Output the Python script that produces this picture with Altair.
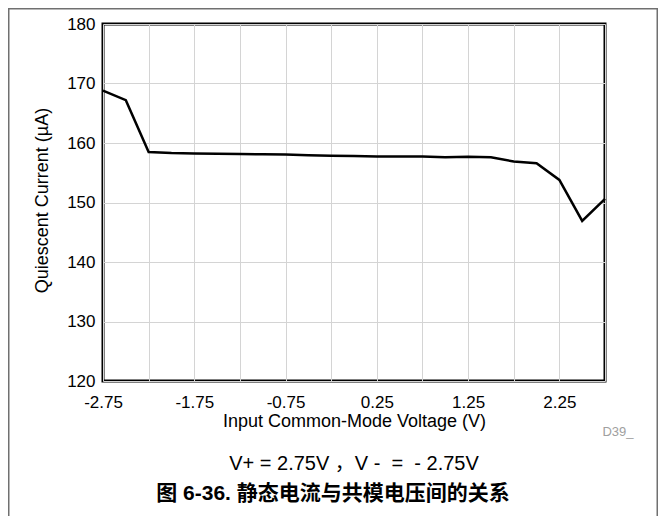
import altair as alt
import pandas as pd

# ---- data ----
vcm = [-2.75, -2.5, -2.25, -2.0, -1.75, -1.5, -1.25, -1.0, -0.75, -0.5, -0.25, 0.0,
       0.25, 0.5, 0.75, 1.0, 1.25, 1.5, 1.75, 2.0, 2.25, 2.5, 2.75]
iq = [168.8, 167.2, 158.5, 158.3, 158.25, 158.2, 158.15, 158.1, 158.05, 157.95, 157.85, 157.8,
      157.75, 157.75, 157.75, 157.6, 157.7, 157.6, 156.9, 156.6, 153.8, 146.9, 150.6]

x_grid_values = [-2.75, -2.25, -1.75, -1.25, -0.75, -0.25, 0.25, 0.75, 1.25, 1.75, 2.25, 2.75]
x_grid_labels = ["-2.75", "", "-1.75", "", "-0.75", "", "0.25", "", "1.25", "", "2.25", ""]
y_ticks = [120, 130, 140, 150, 160, 170, 180]

NB = "\u00a0"
x_title = "Input Common-Mode Voltage (V)"
y_title = "Quiescent Current (µA)"
caption = f"V+ = 2.75V{NB}，V{NB}-{NB}{NB}={NB}{NB}-{NB}2.75V"
fig_title = "图 6-36. 静态电流与共模电压间的关系"
code_label = "D39_"

FONT = "Liberation Sans, Arial, Noto Sans CJK SC"
W, H = 502, 357

df = pd.DataFrame({"vcm": vcm, "iq": iq})
one = pd.DataFrame({"k": [0]})

label_expr = (
    "[" + ",".join("'" + s + "'" for s in x_grid_labels) + "]"
    "[indexof([" + ",".join(str(v) for v in x_grid_values) + "], datum.value)]"
)

line = alt.Chart(df).mark_line(color="black", strokeWidth=2.5).encode(
    x=alt.X("vcm:Q",
            scale=alt.Scale(domain=[-2.75, 2.75], nice=False, zero=False),
            axis=alt.Axis(values=x_grid_values, labelExpr=label_expr, title=x_title,
                          ticks=False, domain=False, grid=True, labelPadding=13,
                          labelFontSize=17, titleFontSize=18, titleFontWeight="normal",
                          titleY=40, titleBaseline="middle", labelFlush=False,
                          labelOverlap=False)),
    y=alt.Y("iq:Q",
            scale=alt.Scale(domain=[120, 180], nice=False, zero=False),
            axis=alt.Axis(values=y_ticks, title=y_title, ticks=False, domain=False,
                          grid=True, labelPadding=8, labelFontSize=17, titleFontSize=18,
                          titleFontWeight="normal", titleX=-61, titleY=176,
                          titleBaseline="middle", titleAlign="center", labelFlush=False)),
)

border = alt.Chart(one).mark_rect(fill=None, stroke="#707070", strokeWidth=1.5).encode(
    x=alt.value(-94.25), x2=alt.value(554.25), y=alt.value(-15.25), y2=alt.value(600)
)

code_txt = alt.Chart(one).mark_text(text=code_label, fontSize=13, color="#a0a0a0",
                                    font=FONT).encode(x=alt.value(515), y=alt.value(408))
cap_txt = alt.Chart(one).mark_text(text=caption, fontSize=20, color="black",
                                   font=FONT).encode(x=alt.value(251), y=alt.value(440))
title_txt = alt.Chart(one).mark_text(text=fig_title, fontSize=21, fontWeight="bold",
                                     color="black", font=FONT).encode(
    x=alt.value(230), y=alt.value(470))

chart = alt.layer(line, border, code_txt, cap_txt, title_txt).properties(
    width=W, height=H,
    autosize=alt.AutoSizeParams(type="none"),
    padding={"left": 95, "top": 16, "right": 53, "bottom": 135},
).configure_view(
    stroke="black", strokeWidth=3
).configure_axis(
    gridColor="#d4d4d4", gridWidth=1, labelFont=FONT, titleFont=FONT,
    labelColor="black", titleColor="black"
)

chart.save("out.html", embed_options={"renderer": "svg", "actions": False})
